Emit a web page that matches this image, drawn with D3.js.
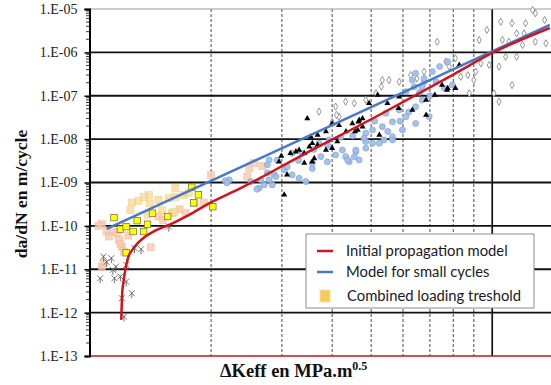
<!DOCTYPE html>
<html>
<head>
<meta charset="utf-8">
<script src="https://cdn.jsdelivr.net/npm/d3@7"></script>
<style>
  body { margin: 0; background: #fff; }
</style>
</head>
<body>
<svg id="chart" width="551" height="385"></svg>
<script>
// values: [ΔKeff, da/dN]
const redModel = [[1.196,6.8e-13],[1.203,3.0e-12],[1.211,5.1e-12],[1.227,1.08e-11],[1.243,1.83e-11],[1.274,2.8e-11],[1.309,3.85e-11],[1.349,5.0e-11],[1.457,7.85e-11],[1.572,1.05e-10],[1.763,1.79e-10],[1.977,3.3e-10],[2.348,7.1e-10],[3.311,3.9e-9],[5.235,3.6e-8],[7.96,3.0e-7],[10.0,9.7e-7],[13.9,3.65e-6]];
const blueModel = [[1.10,8.5e-11],[13.9,4.3e-6]];

const yellowSquares = [[1.147,1.55e-10],[1.19,8.4e-11],[1.23,9.6e-11],[1.28,7.4e-11],[1.31,1.32e-10],[1.36,7.4e-11],[1.39,1.09e-10],[1.43,1.96e-10],[1.56,1.64e-10],[2.02,2.78e-10],[1.86,5.2e-10],[1.79,7.8e-10],[1.23,2.4e-11],[1.81,3.4e-10]];
const paleSquares = [[1.27,3.45e-10],[1.32,3.8e-10],[1.40,5.2e-10],[1.41,3.3e-10],[1.48,4.0e-10],[1.51,2.3e-10],[1.57,4.35e-10],[1.63,4.7e-10],[1.62,2.1e-10],[1.71,5.2e-10],[1.76,5.85e-10],[1.26,2.3e-10],[1.39,1.8e-10],[1.63,7.4e-10],[1.36,4.65e-10]];
const salmonSquares = [[1.07,1.1e-10],[1.10,7.4e-11],[1.14,7.4e-11],[1.17,6.8e-11],[1.115,5.7e-11],[1.18,4.75e-11],[1.20,3.3e-11],[1.215,2.55e-11],[1.19,3.85e-11],[1.245,6.0e-11],[1.415,3.2e-11],[1.07,1.15e-11],[1.08,1.38e-11],[1.48,1.64e-10],[1.52,1.37e-10],[1.60,1.96e-10],[1.67,2.4e-10],[1.73,1.96e-10],[1.82,3.3e-10],[1.92,3.45e-10],[1.05,1.0e-10],[2.49,2.1e-9],[2.56,2.8e-9],[2.68,2.4e-9],[2.46,1.37e-9],[2.0,1.5e-9]];
const crossMarks = [[1.08,1.96e-11],[1.13,1.8e-11],[1.16,1.15e-11],[1.14,9.7e-12],[1.06,6.2e-12],[1.15,6.2e-12],[1.19,6.8e-12],[1.23,1.26e-11],[1.23,5.2e-12],[1.27,2.8e-12],[1.20,2.15e-12],[1.215,8.1e-13],[1.29,3.05e-11],[1.34,2.9e-11],[1.57,9.6e-11],[1.10,1.48e-11]];
const blueCircles = [[2.63,7.4e-10],[2.71,8.8e-10],[2.79,1.15e-9],[2.87,1.5e-9],[3.04,1.95e-9],[3.09,2.3e-9],[3.18,1.5e-9],[3.31,1.25e-9],[3.44,1.05e-9],[2.92,3.3e-9],[2.79,3.3e-9],[2.76,2.55e-9],[3.18,4.7e-9],[3.37,4.7e-9],[3.57,2.8e-9],[2.22,1.15e-9],[2.17,1.1e-9],[2.60,7.0e-10],[2.84,8.8e-10],[2.51,1.05e-9],[2.66,1.15e-9],[2.90,1.37e-9],[3.57,2.1e-9],[3.75,3.95e-9],[3.89,3.0e-9],[4.08,4.3e-9],[4.32,3.95e-9],[4.41,3.0e-9],[4.58,5.15e-9],[4.85,6.2e-9],[5.04,8.05e-9],[5.38,9.6e-9],[5.65,1.14e-8],[3.71,8.05e-9],[3.93,9.6e-9],[4.37,3.3e-9],[4.58,5.6e-9],[4.85,8.8e-9],[5.04,1.63e-8],[5.33,1.94e-8],[5.65,2.5e-8],[5.98,1.63e-8],[6.1,3.3e-8],[6.45,5.6e-8],[6.7,8.0e-8],[5.44,3.95e-8],[5.87,4.7e-8],[4.67,3.3e-9],[4.24,5.6e-9],[5.24,8.05e-9],[5.65,9.6e-9],[6.45,2.3e-8],[6.97,3.3e-8],[6.1,1.24e-7],[6.4,1.62e-7],[6.77,2.1e-7],[4.85,1.37e-8],[6.45,3.3e-7],[6.77,2.5e-7],[7.1,3.6e-7],[7.4,4.7e-7],[7.75,6.1e-7],[6.7,1.62e-7],[6.33,2.3e-7],[7.25,2.1e-7],[7.6,1.49e-7],[7.96,1.77e-7],[4.54,3.9e-9],[2.76,1.66e-9],[2.19,9.8e-10],[3.9,7.0e-9],[4.2,1.1e-8],[4.5,1.2e-8],[4.8,1.05e-8],[5.5,1.5e-8],[5.9,2.6e-8],[6.2,4.2e-8],[5.1,2.6e-8],[3.6,5.8e-9],[3.3,3.2e-9],[6.6,1.2e-7],[7.0,1.0e-7]];
const blackTriangles = [[3.47,3.0e-8],[3.15,4.7e-9],[3.25,5.15e-9],[3.31,5.6e-9],[3.41,4.7e-9],[3.51,6.7e-9],[3.57,8.05e-9],[3.68,7.35e-9],[2.95,3.0e-9],[3.41,2.8e-9],[3.61,3.6e-9],[3.09,1.5e-9],[3.04,5.2e-10],[3.54,1.14e-8],[3.68,1.25e-8],[3.86,1.49e-8],[4.0,2.3e-8],[4.16,2.1e-8],[4.33,1.49e-8],[4.49,2.3e-8],[4.67,2.75e-8],[4.63,1.63e-8],[4.94,6.7e-8],[5.19,1.04e-7],[5.49,6.7e-8],[5.87,9.5e-8],[6.33,4.7e-8],[6.85,3.6e-8],[5.24,1.25e-8],[4.12,8.8e-9],[3.86,5.6e-9],[3.57,3.0e-9],[4.0,6.2e-9],[4.76,1.94e-8],[8.28,5.1e-7],[7.5,1.77e-7],[7.75,1.49e-7],[8.1,1.49e-7],[7.2,1.04e-7],[6.85,8.0e-8],[5.85,5.15e-8],[7.72,1.36e-7],[4.65,2.5e-8],[4.76,3.0e-8],[4.56,1.49e-8],[2.99,4.1e-9]];
const openDiamonds = [[3.71,4.3e-8],[4.16,3.3e-8],[4.08,5.6e-8],[4.32,7.3e-8],[4.54,6.7e-8],[4.85,8.0e-8],[5.3,1.62e-7],[5.54,2.3e-7],[5.87,2.1e-7],[6.27,3.0e-7],[6.5,2.5e-7],[6.77,3.6e-7],[5.14,1.14e-7],[7.3,1.76e-6],[9.28,1.93e-6],[9.7,3.3e-6],[10.5,5.1e-6],[11.2,4.7e-6],[12.1,4.7e-6],[12.8,7.95e-6],[13.5,5.6e-6],[12.6,9.5e-6],[11.5,2.75e-6],[12.0,2.75e-6],[12.8,1.76e-6],[13.6,1.62e-6],[10.6,1.93e-6],[11.0,1.76e-6],[11.5,7.95e-7],[10.8,7.95e-7],[10.4,4.7e-7],[9.83,5.1e-7],[9.37,5.6e-7],[9.1,3.6e-7],[8.7,3.0e-7],[8.35,2.75e-7],[9.0,2.3e-7],[11.2,1.77e-7],[8.77,1.14e-7],[10.4,7.3e-8],[8.1,7.3e-7],[7.67,6.1e-7],[7.82,4.7e-7],[10.1,1.14e-7],[11.9,1.48e-6],[4.0,2.5e-8],[4.1,3.6e-8],[5.33,2.3e-7]];

const yDecades = [1e-13,1e-12,1e-11,1e-10,1e-9,1e-8,1e-7,1e-6,1e-5];
const yTickLabels = ["1.E-13","1.E-12","1.E-11","1.E-10","1.E-09","1.E-08","1.E-07","1.E-06","1.E-05"];
const xMinorGrid = [2,3,4,5,6,7,8,9];
const xMajorGrid = [10];
const legendLabels = ["Initial propagation model","Model for small cycles","Combined loading treshold"];

const svg = d3.select('#chart');
const x = d3.scaleLog().domain([1, 14]).range([90, 551]);
const y = d3.scaleLog().domain([1e-13, 1e-5]).range([356, 9]);
const serif = '"Liberation Serif", "Times New Roman", serif';

// grid
svg.append('g').selectAll('line')
    .data(xMinorGrid)
    .enter().append('line')
    .attr('x1', d => x(d)).attr('x2', d => x(d))
    .attr('y1', 9).attr('y2', 356)
    .attr('stroke', '#333').attr('stroke-width', 0.9)
    .attr('stroke-dasharray', '3,2');
svg.append('g').selectAll('line')
    .data(xMajorGrid)
    .enter().append('line')
    .attr('x1', d => x(d)).attr('x2', d => x(d))
    .attr('y1', 9).attr('y2', 356)
    .attr('stroke', '#111').attr('stroke-width', 1.7);
svg.append('g').selectAll('line')
    .data(yDecades.slice(1, -1))
    .enter().append('line')
    .attr('x1', 89).attr('x2', 551)
    .attr('y1', d => y(d)).attr('y2', d => y(d))
    .attr('stroke', '#111').attr('stroke-width', 1.8);
svg.append('line')
    .attr('x1', 89).attr('x2', 551)
    .attr('y1', y(1e-5)).attr('y2', y(1e-5))
    .attr('stroke', '#9a9a9a').attr('stroke-width', 1);
svg.append('line')
    .attr('x1', 89).attr('x2', 551)
    .attr('y1', y(1e-13)).attr('y2', y(1e-13))
    .attr('stroke', '#c0141c').attr('stroke-width', 1.6);

// scatter
const sq = (sel, data, size, fill, stroke, op) => sel.append('g').selectAll('rect')
    .data(data).enter().append('rect')
    .attr('x', d => x(d[0]) - size / 2).attr('y', d => y(d[1]) - size / 2)
    .attr('width', size).attr('height', size)
    .attr('fill', fill).attr('stroke', stroke).attr('stroke-width', 0.7)
    .attr('opacity', op);

sq(svg, salmonSquares, 7, '#f9c9b0', '#f5b898', 0.8);
sq(svg, paleSquares, 7, '#f8dd96', '#f0cb76', 0.8);

svg.append('g').selectAll('path')
    .data(crossMarks).enter().append('path')
    .attr('transform', d => `translate(${x(d[0])},${y(d[1])})`)
    .attr('d', 'M-3,-3L3,3M3,-3L-3,3M0,-1L0,5')
    .attr('stroke', '#666').attr('stroke-width', 0.9).attr('fill', 'none');

svg.append('g').selectAll('path')
    .data(openDiamonds).enter().append('path')
    .attr('transform', d => `translate(${x(d[0])},${y(d[1])})`)
    .attr('d', d3.symbol(d3.symbolDiamond, 15))
    .attr('fill', '#fff').attr('stroke', '#8a8a8a').attr('stroke-width', 0.9);

svg.append('g').selectAll('circle')
    .data(blueCircles).enter().append('circle')
    .attr('cx', d => x(d[0])).attr('cy', d => y(d[1]))
    .attr('r', 3)
    .attr('fill', '#a3bfe8').attr('stroke', '#86a6da').attr('stroke-width', 0.8)
    .attr('opacity', 0.95);

svg.append('g').selectAll('path')
    .data(blackTriangles).enter().append('path')
    .attr('transform', d => `translate(${x(d[0])},${y(d[1])})`)
    .attr('d', d3.symbol(d3.symbolTriangle, 16))
    .attr('fill', '#000');

sq(svg, yellowSquares, 6.5, '#ffff00', '#6e6a3a', 1);

// models
const line = d3.line().x(d => x(d[0])).y(d => y(d[1])).curve(d3.curveMonotoneX);
svg.append('path').datum(blueModel)
    .attr('d', line).attr('fill', 'none')
    .attr('stroke', '#4a78c8').attr('stroke-width', 2.5);
svg.append('path').datum(redModel)
    .attr('d', line).attr('fill', 'none')
    .attr('stroke', '#d0141c').attr('stroke-width', 2.5);

// y axis
svg.append('g')
    .attr('transform', 'translate(89.5,0)')
    .call(d3.axisLeft(y).tickValues(yDecades).tickFormat((d, i) => yTickLabels[i]).tickSize(5).tickPadding(7))
    .call(g => g.select('.domain').attr('stroke', '#000').attr('stroke-width', 2))
    .call(g => g.selectAll('.tick line').attr('stroke', '#000').attr('stroke-width', 1.5))
    .call(g => g.selectAll('.tick text').attr('font-family', serif).attr('font-size', 14).attr('fill', '#222'));

const minor = [];
yDecades.slice(0, -1).forEach(d => [2,3,4,5,6,7,8,9].forEach(k => minor.push(d * k)));
svg.append('g').selectAll('line')
    .data(minor).enter().append('line')
    .attr('x1', 86).attr('x2', 89)
    .attr('y1', d => y(d)).attr('y2', d => y(d))
    .attr('stroke', '#000').attr('stroke-width', 0.8);

// axis titles
svg.append('text')
    .attr('transform', 'translate(27,194) rotate(-90)')
    .attr('text-anchor', 'middle')
    .attr('font-family', serif).attr('font-weight', 'bold').attr('font-size', 17.5)
    .attr('fill', '#111')
    .text('da/dN en m/cycle');

const xt = svg.append('text')
    .attr('x', 220).attr('y', 377)
    .attr('font-family', serif).attr('font-weight', 'bold').attr('font-size', 18.5)
    .attr('fill', '#111');
xt.append('tspan').text('ΔKeff en MPa.m');
xt.append('tspan').attr('dy', -7).attr('font-size', 12).text('0.5');

// legend
const lg = svg.append('g').attr('transform', 'translate(306,234)');
lg.append('rect').attr('width', 228).attr('height', 74)
    .attr('fill', '#fff').attr('stroke', '#8c8c8c').attr('stroke-width', 1);
const ly = [17, 38, 62];
lg.append('line').attr('x1', 11).attr('x2', 27).attr('y1', ly[0]).attr('y2', ly[0])
    .attr('stroke', '#d0141c').attr('stroke-width', 2.5);
lg.append('line').attr('x1', 11).attr('x2', 27).attr('y1', ly[1]).attr('y2', ly[1])
    .attr('stroke', '#4a78c8').attr('stroke-width', 2.5);
lg.append('rect').attr('x', 14).attr('y', ly[2] - 6).attr('width', 10).attr('height', 12)
    .attr('fill', '#f6c85a').attr('stroke', '#fbe2a0').attr('stroke-width', 1);
lg.selectAll('text.lbl')
    .data(legendLabels).enter().append('text')
    .attr('class', 'lbl')
    .attr('x', (d, i) => i === 2 ? 41 : 40)
    .attr('y', (d, i) => ly[i] + 5)
    .attr('font-family', 'Lato, "Open Sans", sans-serif').attr('font-size', 14.8)
    .attr('fill', '#1a1a1a')
    .text(d => d);
</script>
</body>
</html>
